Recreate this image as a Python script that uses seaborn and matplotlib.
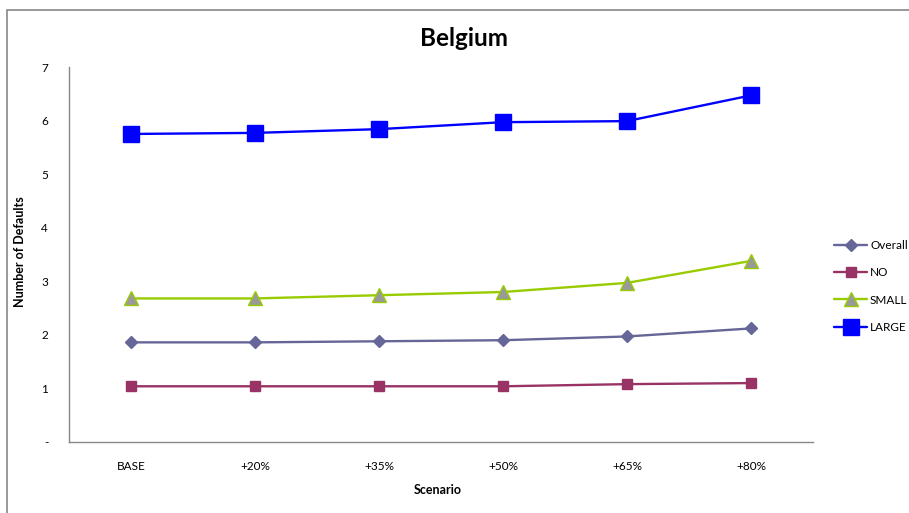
import matplotlib
matplotlib.use("Agg")
import matplotlib.pyplot as plt
import seaborn as sns
from matplotlib.patches import Rectangle

categories = ["BASE", "+20%", "+35%", "+50%", "+65%", "+80%"]
overall = [1.86, 1.86, 1.88, 1.90, 1.97, 2.12]
no_vals = [1.04, 1.04, 1.04, 1.04, 1.08, 1.10]
small = [2.68, 2.68, 2.74, 2.80, 2.97, 3.38]
large = [5.75, 5.77, 5.84, 5.97, 5.99, 6.47]
series_names = ["Overall", "NO", "SMALL", "LARGE"]
y_ticks = [0, 1, 2, 3, 4, 5, 6, 7]
y_tick_labels = ["-", "1", "2", "3", "4", "5", "6", "7"]

sns.set_theme(style="white")
plt.rcParams["font.family"] = ["Lato", "DejaVu Sans"]
plt.rcParams["text.color"] = "black"

fig = plt.figure(figsize=(9.09, 5.13), dpi=100)
ax = fig.add_axes([69/909, 1-442/513, (813-69)/909, (442-67)/513])

styles = [
    dict(color="#666699", marker="D", markersize=6.5, markerfacecolor="#666699", markeredgecolor="#666699"),
    dict(color="#993366", marker="s", markersize=7.5, markerfacecolor="#993366", markeredgecolor="#993366"),
    dict(color="#99CC00", marker="^", markersize=9.5, markerfacecolor="#999999", markeredgecolor="#99CC00"),
    dict(color="#0000FF", marker="s", markersize=11.5, markerfacecolor="#0000FF", markeredgecolor="#0000FF"),
]
for name, vals, st in zip(series_names, [overall, no_vals, small, large], styles):
    sns.lineplot(x=categories, y=vals, ax=ax, sort=False, linewidth=1.7,
                 label=name, markeredgewidth=1, **st)

ax.set_xlim(-0.5, 5.5)
ax.set_ylim(0, 7)
ax.set_yticks(y_ticks)
ax.set_yticklabels(y_tick_labels)
ax.tick_params(axis="both", length=0, labelsize=8.5, colors="black", labelcolor="black")
ax.tick_params(axis="y", pad=15)
ax.tick_params(axis="x", pad=14)
for s in ["top", "right"]:
    ax.spines[s].set_visible(False)
for s in ["left", "bottom"]:
    ax.spines[s].set_color("#888888")
    ax.spines[s].set_linewidth(1)
ax.grid(False)
ax.set_xlabel("")
ax.set_ylabel("")

fig.text(464/909, 1-39/513, "Belgium", ha="center", va="center", fontsize=17.5, fontweight="bold", color="black")
fig.text(20/909, 1-252/513, "Number of Defaults", rotation=90, ha="center", va="center", fontsize=9, fontweight="bold", color="black")
fig.text(438/909, 1-490/513, "Scenario", ha="center", va="center", fontsize=9, fontweight="bold", color="black")

leg = ax.legend(loc="upper left", bbox_to_anchor=(834/909, 1-240/513), bbox_transform=fig.transFigure,
                frameon=False, fontsize=8.5, handlelength=2.8, labelspacing=1.38, handletextpad=0.25,
                borderaxespad=0, borderpad=0)
for t in leg.get_texts():
    t.set_color("black")

fig.patches.append(Rectangle((7/909, -0.5), 2, 0.5 + (1-10/513), transform=fig.transFigure,
                             fill=False, edgecolor="#888888", linewidth=1.2, figure=fig))

fig.savefig("out.png", dpi=100)
